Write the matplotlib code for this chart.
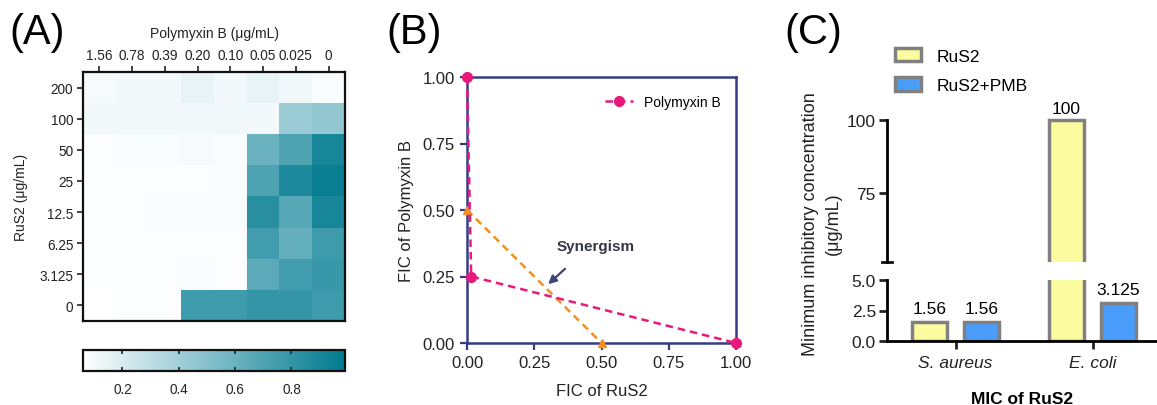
import numpy as np
import matplotlib
matplotlib.use("Agg")
import matplotlib.pyplot as plt
from matplotlib.colors import LinearSegmentedColormap

plt.rcParams['font.family'] = ['Liberation Sans', 'DejaVu Sans']

# ---------------- data ----------------
pmb_labels = ["1.56", "0.78", "0.39", "0.20", "0.10", "0.05", "0.025", "0"]
rus2_labels = ["200", "100", "50", "25", "12.5", "6.25", "3.125", "0"]
growth = np.array([
    [0.09, 0.10, 0.10, 0.14, 0.10, 0.14, 0.11, 0.08],
    [0.10, 0.10, 0.10, 0.11, 0.11, 0.10, 0.42, 0.45],
    [0.07, 0.08, 0.08, 0.09, 0.08, 0.60, 0.70, 0.90],
    [0.07, 0.07, 0.07, 0.07, 0.08, 0.70, 0.88, 0.95],
    [0.07, 0.07, 0.08, 0.08, 0.08, 0.84, 0.67, 0.90],
    [0.07, 0.07, 0.07, 0.07, 0.07, 0.75, 0.62, 0.76],
    [0.07, 0.07, 0.07, 0.08, 0.07, 0.65, 0.75, 0.78],
    [0.06, 0.07, 0.07, 0.76, 0.76, 0.80, 0.80, 0.76],
])

fic_rus2_pmb = [0.0, 0.0156, 1.0]
fic_pmb_pmb = [1.0, 0.25, 0.0]
additive_x = [0.0, 0.5]
additive_y = [0.5, 0.0]

organisms = ["S. aureus", "E. coli"]
mic_rus2 = [1.56, 100]
mic_rus2_pmb = [1.56, 3.125]
mic_rus2_labels = ["1.56", "100"]
mic_rus2_pmb_labels = ["1.56", "3.125"]

# ---------------- figure ----------------
fig = plt.figure(figsize=(11.57, 4.06), dpi=100)
W, H = 1157, 406

def rect(x0, y0, x1, y1):
    return [x0 / W, 1 - y1 / H, (x1 - x0) / W, (y1 - y0) / H]

# ---------- Panel A ----------
cmap = LinearSegmentedColormap.from_list("teal", ["#ffffff", "#7fbdca", "#007a8e"])
axA = fig.add_axes(rect(83, 73, 345, 322))
im = axA.imshow(growth, cmap=cmap, vmin=0.06, vmax=0.99, aspect='auto',
                interpolation='nearest')
axA.xaxis.tick_top()
axA.xaxis.set_label_position('top')
axA.set_xticks(range(len(pmb_labels)))
axA.set_xticklabels(pmb_labels, fontsize=9.8, color='#222222')
axA.set_yticks(range(len(rus2_labels)))
axA.set_yticklabels(rus2_labels, fontsize=9.8, color='#222222')
axA.set_xlabel("Polymyxin B (μg/mL)", fontsize=10, labelpad=8, color='#222222')
axA.set_ylabel("RuS2 (μg/mL)", fontsize=10, labelpad=8, color='#222222')
axA.tick_params(length=4, width=1.2, color='#222222', pad=3)
for s in axA.spines.values():
    s.set_linewidth(1.6)
    s.set_color('#111111')

caxA = fig.add_axes(rect(83, 351, 345, 372))
cb = fig.colorbar(im, cax=caxA, orientation='horizontal')
cb.set_ticks([0.2, 0.4, 0.6, 0.8])
cb.ax.tick_params(direction='in', top=True, length=3, width=1.2, labelsize=9.8,
                  colors='#222222', pad=8)
cb.outline.set_linewidth(1.6)
cb.outline.set_edgecolor('#111111')

fig.text(9 / W, 1 - 44 / H, "(A)", fontsize=30, va='baseline', ha='left')

# ---------- Panel B ----------
navy = '#333d85'
pink = '#e8197c'
orange = '#f39020'
axB = fig.add_axes(rect(467, 78, 736, 344))
axB.plot(fic_rus2_pmb, fic_pmb_pmb, linestyle=(0, (3, 2)), color=pink, lw=1.8,
         marker='o', markersize=7, clip_on=False, zorder=4, label="Polymyxin B")
axB.plot(additive_x, additive_y, linestyle=(0, (3, 2)), color=orange, lw=1.8,
         marker='^', markersize=6, clip_on=False, zorder=3)
axB.set_xlim(0, 1)
axB.set_ylim(0, 1)
ticks = [0.0, 0.25, 0.5, 0.75, 1.0]
axB.set_xticks(ticks)
axB.set_yticks(ticks)
axB.set_xticklabels(["0.00", "0.25", "0.50", "0.75", "1.00"])
axB.set_yticklabels(["0.00", "0.25", "0.50", "0.75", "1.00"])
axB.tick_params(length=5, width=1.6, color=navy, labelsize=12, labelcolor='#222222', pad=4)
for s in axB.spines.values():
    s.set_linewidth(1.8)
    s.set_color(navy)
axB.set_xlabel("FIC of RuS2", fontsize=12, labelpad=9, color='#222222')
axB.set_ylabel("FIC of Polymyxin B", fontsize=12, labelpad=6, color='#222222')
axB.legend(loc='upper right', frameon=False, fontsize=10, handlelength=2.0,
           bbox_to_anchor=(0.99, 0.98), handletextpad=0.8)
axB.text(0.48, 0.365, "Synergism", fontsize=11, fontweight='bold', color='#333844',
         ha='center', va='center')
axB.annotate("", xy=(0.294, 0.214), xytext=(0.372, 0.286),
             arrowprops=dict(arrowstyle='-|>', color='#3d4577', lw=1.6,
                             mutation_scale=12))
fig.text(386 / W, 1 - 44 / H, "(B)", fontsize=30, va='baseline', ha='left')

# ---------- Panel C ----------
yellow = '#fbfba0'
blue = '#4a9dfb'
edge = '#808080'
x = np.arange(len(organisms))
bw = 0.255
off = 0.19
ax_up = fig.add_axes(rect(887, 117, 1157, 263))
ax_lo = fig.add_axes(rect(887, 281, 1157, 342))
for ax in (ax_up, ax_lo):
    ax.bar(x - off, mic_rus2, width=bw, color=yellow, edgecolor=edge, linewidth=2.5,
           label="RuS2")
    ax.bar(x + off, mic_rus2_pmb, width=bw, color=blue, edgecolor=edge, linewidth=2.5,
           label="RuS2+PMB")
    ax.set_xlim(-0.5, 1.47)
    ax.spines['top'].set_visible(False)
    ax.spines['right'].set_visible(False)
    ax.spines['left'].set_linewidth(2)
    ax.tick_params(axis='y', length=6, width=2, labelsize=12.5, pad=2, colors='#222222')

ax_up.set_ylim(51.3, 101.5)
ax_up.spines['left'].set_bounds(51.3, 100)
ax_up.spines['bottom'].set_visible(False)
ax_up.set_xticks([])
ax_up.set_yticks([75, 100])
ax_up.plot([-0.537, -0.463], [51.3, 51.3], color='#111111', lw=2, clip_on=False,
           transform=ax_up.transData)

ax_lo.set_ylim(0, 5)
ax_lo.set_yticks([0.0, 2.5, 5.0])
ax_lo.set_yticklabels(["0.0", "2.5", "5.0"])
ax_lo.spines['bottom'].set_linewidth(2)
ax_lo.set_xticks(x)
ax_lo.set_xticklabels(organisms, fontstyle='italic', fontsize=12.5)
ax_lo.tick_params(axis='x', length=6, width=2, pad=4, colors='#222222')
ax_lo.set_xlabel("MIC of RuS2", fontsize=12.5, fontweight='bold', labelpad=15)

# value labels
ax_lo.text(x[0] - off, mic_rus2[0] + 0.45, mic_rus2_labels[0], ha='center', va='bottom', fontsize=12.5)
ax_lo.text(x[0] + off, mic_rus2_pmb[0] + 0.45, mic_rus2_pmb_labels[0], ha='center', va='bottom', fontsize=12.5)
ax_lo.text(x[1] + off, mic_rus2_pmb[1] + 0.45, mic_rus2_pmb_labels[1], ha='center', va='bottom', fontsize=12.5)
ax_up.text(x[1] - off, mic_rus2[1] + 1.5, mic_rus2_labels[1], ha='center', va='bottom', fontsize=12.5)

fig.text(822 / W, 1 - 224 / H, "Minimum inhibitory concentration\n(μg/mL)", rotation=90,
         fontsize=13, ha='center', va='center', linespacing=1.5, color='#222222')

handles, labels = ax_up.get_legend_handles_labels()
fig.legend(handles, labels, loc='upper left', bbox_to_anchor=(879 / W, 1 - 33 / H),
           frameon=False, fontsize=12.5, handlelength=1.5, handleheight=0.85,
           labelspacing=0.8, handletextpad=0.9)

fig.text(784 / W, 1 - 44 / H, "(C)", fontsize=30, va='baseline', ha='left')

fig.savefig("out.png", dpi=100)
